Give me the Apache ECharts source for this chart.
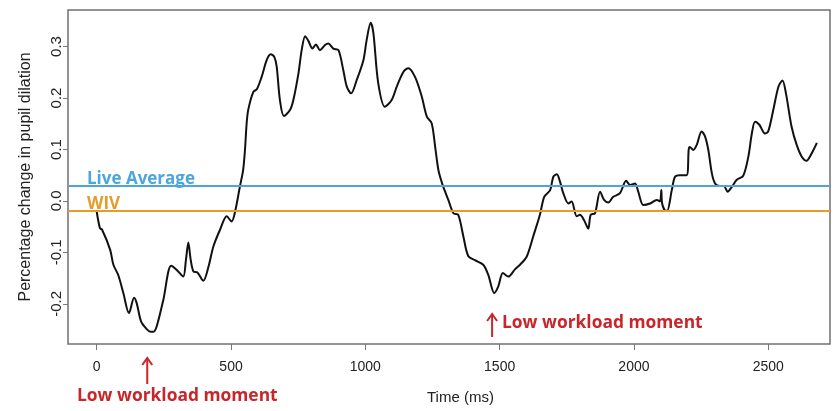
<!DOCTYPE html>
<html>
<head>
<meta charset="utf-8">
<script src="https://cdn.jsdelivr.net/npm/echarts@6/dist/echarts.min.js"></script>
<style>
  html, body { margin: 0; padding: 0; background: #fff; }
  #main { width: 835px; height: 411px; }
</style>
</head>
<body>
<div id="main"></div>
<script>
// pupil dilation trace
var times = [0, 12, 20, 50, 62, 80, 99, 120, 139, 149, 165, 186, 200, 211, 223, 248, 277, 298, 322, 332,
  341, 350, 360, 375, 397, 416, 434, 459, 484, 502, 515, 533, 545, 552, 558, 564, 583, 596, 614, 633,
  648, 661, 670, 682, 697, 720, 732, 751, 763, 776, 788, 803, 816, 831, 850, 862, 881, 900, 918, 931,
  947, 968, 993, 1005, 1020, 1030, 1048, 1073, 1098, 1117, 1142, 1160, 1185, 1210, 1229, 1247, 1260, 1272, 1284, 1292,
  1309, 1328, 1346, 1365, 1383, 1408, 1439, 1458, 1480, 1495, 1512, 1532, 1557, 1576, 1601, 1625, 1650, 1666, 1688, 1700,
  1713, 1725, 1737, 1756, 1768, 1787, 1799, 1814, 1830, 1839, 1855, 1874, 1889, 1905, 1923, 1948, 1971, 1986, 2004, 2016,
  2035, 2060, 2085, 2097, 2102, 2105, 2118, 2124, 2141, 2153, 2171, 2196, 2204, 2208, 2221, 2234, 2252, 2265, 2277, 2290,
  2302, 2320, 2335, 2349, 2364, 2383, 2407, 2426, 2439, 2451, 2467, 2488, 2500, 2519, 2538, 2553, 2566, 2587, 2606, 2625,
  2643, 2656, 2674, 2681];
var values = [-0.021, -0.053, -0.056, -0.095, -0.124, -0.144, -0.179, -0.218, -0.188, -0.199, -0.234, -0.249, -0.254, -0.254, -0.244, -0.192, -0.126, -0.134, -0.147, -0.115,
  -0.081, -0.115, -0.137, -0.139, -0.155, -0.128, -0.089, -0.056, -0.030, -0.040, -0.021, 0.028, 0.060, 0.100, 0.150, 0.177, 0.212, 0.217, 0.241, 0.274,
  0.285, 0.280, 0.261, 0.196, 0.165, 0.177, 0.196, 0.248, 0.293, 0.320, 0.311, 0.296, 0.304, 0.293, 0.303, 0.306, 0.296, 0.293, 0.254, 0.222,
  0.209, 0.235, 0.274, 0.313, 0.346, 0.326, 0.229, 0.183, 0.196, 0.222, 0.251, 0.258, 0.241, 0.203, 0.164, 0.151, 0.105, 0.060, 0.037, 0.025,
  0.002, -0.024, -0.027, -0.069, -0.107, -0.115, -0.124, -0.144, -0.179, -0.166, -0.140, -0.147, -0.133, -0.124, -0.108, -0.069, -0.027, 0.008, 0.021, 0.047,
  0.052, 0.037, 0.015, -0.005, -0.001, -0.030, -0.027, -0.037, -0.054, -0.027, -0.024, 0.018, 0.002, -0.003, 0.008, 0.015, 0.039, 0.031, 0.034, 0.018,
  -0.008, -0.005, 0.002, -0.001, 0.021, -0.005, -0.019, -0.019, 0.021, 0.047, 0.050, 0.050, 0.100, 0.105, 0.099, 0.109, 0.135, 0.125, 0.099, 0.054,
  0.034, 0.029, 0.029, 0.018, 0.027, 0.041, 0.049, 0.086, 0.131, 0.154, 0.148, 0.131, 0.135, 0.177, 0.222, 0.234, 0.209, 0.144, 0.109, 0.086,
  0.078, 0.087, 0.105, 0.113];

var xTicks = [0, 500, 1000, 1500, 2000, 2500];
var yTicks = [-0.2, -0.1, 0.0, 0.1, 0.2, 0.3];

var liveAverage = 0.025;
var wiv = -0.021;
var lowWorkloadTimes = [188, 1472];

var red = '#c8262b';
var blue = '#4ba6df';
var orange = '#e49c2a';

var myChart = echarts.init(document.getElementById('main'));

var lineData = [];
for (var i = 0; i < times.length; i++) {
  lineData.push([times[i], values[i]]);
}

var option = {
  backgroundColor: '#fff',
  animation: false,
  grid: {
    left: 68, right: 5, top: 10, bottom: 67,
    show: true,
    borderColor: '#707070',
    borderWidth: 1.5
  },
  xAxis: {
    type: 'value',
    min: -107,
    max: 2730,
    splitLine: { show: false },
    axisLine: { show: false, onZero: false },
    axisTick: { show: true, customValues: xTicks, length: 6, lineStyle: { color: '#777' } },
    axisLabel: {
      customValues: xTicks, margin: 16, fontSize: 14, color: '#222', fontFamily: 'Liberation Sans',
      formatter: function (v) { return String(v); }
    }
  },
  yAxis: {
    type: 'value',
    min: -0.278,
    max: 0.371,
    name: 'Percentage change in pupil dilation',
    nameLocation: 'middle',
    nameRotate: 90,
    nameGap: 34,
    nameTextStyle: { fontSize: 16, color: '#222', fontFamily: 'Liberation Sans' },
    splitLine: { show: false },
    axisLine: { show: false, onZero: false },
    axisTick: { show: true, customValues: yTicks, length: 5, lineStyle: { color: '#777' } },
    axisLabel: {
      customValues: yTicks, rotate: 90, margin: 4, fontSize: 15, color: '#222', fontFamily: 'Liberation Sans',
      formatter: function (v) { return v.toFixed(1); }
    }
  },
  series: [{
    type: 'line',
    data: lineData,
    showSymbol: false,
    smooth: 0.3,
    lineStyle: { color: '#111', width: 2 },
    markLine: {
      silent: true,
      symbol: 'none',
      data: [
        {
          yAxis: liveAverage,
          lineStyle: { color: blue, width: 2, type: 'solid' },
          label: { show: true, formatter: 'Live Average', position: 'insideStartTop', distance: [19, -2],
            color: blue, fontWeight: 'bold', fontSize: 17, fontFamily: 'Open Sans' }
        },
        {
          yAxis: wiv,
          lineStyle: { color: orange, width: 2, type: 'solid' },
          label: { show: true, formatter: 'WIV', position: 'insideStartTop', distance: [19, -1],
            color: orange, fontWeight: 'bold', fontSize: 17, fontFamily: 'Open Sans' }
        }
      ]
    }
  }]
};
myChart.setOption(option);

// annotations under the trace
var ax1 = myChart.convertToPixel({ gridIndex: 0 }, [lowWorkloadTimes[0], 0])[0];
var ax2 = myChart.convertToPixel({ gridIndex: 0 }, [lowWorkloadTimes[1], 0])[0];

function arrow(x, y1, y2) {
  return {
    type: 'group',
    children: [
      { type: 'line', shape: { x1: x, y1: y2, x2: x, y2: y1 + 1 }, style: { stroke: red, lineWidth: 2 } },
      { type: 'polyline', shape: { points: [[x - 5, y1 + 7], [x, y1], [x + 5, y1 + 7]] }, style: { stroke: red, lineWidth: 2, fill: null } }
    ]
  };
}

myChart.setOption({
  graphic: [
    arrow(ax1, 358, 384),
    arrow(ax2, 314, 337),
    { type: 'text', left: 77, top: 388, style: { text: 'Low workload moment', fill: red, font: 'bold 17.4px "Open Sans"' } },
    { type: 'text', left: 502, top: 315, style: { text: 'Low workload moment', fill: red, font: 'bold 17.4px "Open Sans"' } },
    { type: 'text', left: 427, top: 390, style: { text: 'Time (ms)', fill: '#222', font: '15px "Liberation Sans"' } }
  ]
});
</script>
</body>
</html>
